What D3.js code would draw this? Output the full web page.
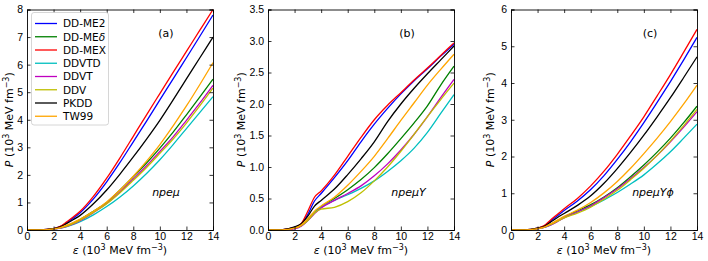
<!DOCTYPE html>
<html>
<head>
<meta charset="utf-8">
<script src="https://cdn.jsdelivr.net/npm/d3@7"></script>
<style>
  body { margin: 0; background: #fff; }
  svg { font-family: "DejaVu Sans", sans-serif; }
  .tick text { font-size: 10.5px; fill: #000; }
</style>
</head>
<body>
<svg id="chart" width="708" height="261"></svg>
<script>
// energy density grid (10^3 MeV fm^-3)
const eps = [0, 1, 2, 2.5, 3, 3.5, 4, 5, 6, 7, 8, 9, 10, 11, 12, 13, 14];

const models = ['DD-ME2', 'DD-MEδ', 'DD-MEX', 'DDVTD', 'DDVT', 'DDV', 'PKDD', 'TW99'];
const colors = ['#0000ff', '#008000', '#ff0000', '#00bfbf', '#bf00bf', '#bfbf00', '#000000', '#ffa500'];

// (a) npeμ
const pressA = {
  'DD-ME2': [0, 0.005, 0.05, 0.12, 0.27, 0.44, 0.63, 1.13, 1.75, 2.45, 3.2, 3.95, 4.72, 5.48, 6.25, 7.02, 7.8],
  'DD-MEδ': [0, 0.004, 0.04, 0.08, 0.15, 0.25, 0.38, 0.68, 1.0, 1.45, 1.93, 2.43, 2.97, 3.55, 4.18, 4.82, 5.47],
  'DD-MEX': [0, 0.005, 0.05, 0.13, 0.3, 0.48, 0.68, 1.22, 1.88, 2.62, 3.4, 4.18, 4.95, 5.72, 6.48, 7.24, 8.0],
  'DDVTD':  [0, 0.003, 0.035, 0.07, 0.12, 0.2, 0.3, 0.55, 0.85, 1.2, 1.6, 2.05, 2.55, 3.1, 3.68, 4.26, 4.84],
  'DDVT':   [0, 0.003, 0.035, 0.07, 0.13, 0.22, 0.34, 0.63, 0.96, 1.38, 1.85, 2.33, 2.85, 3.38, 3.98, 4.6, 5.25],
  'DDV':    [0, 0.004, 0.04, 0.08, 0.14, 0.24, 0.36, 0.64, 0.95, 1.35, 1.8, 2.27, 2.78, 3.3, 3.88, 4.5, 5.15],
  'PKDD':   [0, 0.005, 0.05, 0.11, 0.24, 0.38, 0.53, 0.95, 1.45, 2.03, 2.65, 3.3, 3.98, 4.72, 5.48, 6.24, 7.0],
  'TW99':   [0, 0.004, 0.04, 0.09, 0.18, 0.28, 0.4, 0.68, 1.02, 1.45, 1.95, 2.5, 3.1, 3.78, 4.5, 5.27, 6.07]
};

// (b) npeμY
const pressB = {
  'DD-ME2': [0, 0.003, 0.04, 0.09, 0.25, 0.46, 0.58, 0.83, 1.1, 1.4, 1.68, 1.93, 2.16, 2.37, 2.56, 2.76, 2.95],
  'DD-MEδ': [0, 0.002, 0.03, 0.07, 0.17, 0.28, 0.37, 0.5, 0.64, 0.8, 0.99, 1.21, 1.45, 1.7, 1.97, 2.3, 2.6],
  'DD-MEX': [0, 0.003, 0.04, 0.1, 0.3, 0.52, 0.62, 0.87, 1.17, 1.47, 1.75, 1.98, 2.18, 2.38, 2.57, 2.77, 2.97],
  'DDVTD':  [0, 0.002, 0.03, 0.07, 0.15, 0.27, 0.36, 0.47, 0.56, 0.66, 0.78, 0.93, 1.1, 1.3, 1.55, 1.85, 2.15],
  'DDVT':   [0, 0.002, 0.02, 0.06, 0.15, 0.26, 0.35, 0.47, 0.58, 0.7, 0.86, 1.05, 1.27, 1.52, 1.8, 2.1, 2.39],
  'DDV':    [0, 0.002, 0.03, 0.07, 0.15, 0.27, 0.33, 0.36, 0.45, 0.59, 0.78, 1.0, 1.25, 1.52, 1.8, 2.07, 2.33],
  'PKDD':   [0, 0.003, 0.05, 0.1, 0.22, 0.38, 0.47, 0.65, 0.88, 1.13, 1.4, 1.72, 2.0, 2.25, 2.48, 2.7, 2.92],
  'TW99':   [0, 0.002, 0.03, 0.08, 0.18, 0.3, 0.38, 0.52, 0.71, 0.93, 1.17, 1.45, 1.74, 2.02, 2.3, 2.55, 2.79]
};

// (c) npeμYϕ
const pressC = {
  'DD-ME2': [0, 0.004, 0.05, 0.11, 0.25, 0.39, 0.53, 0.79, 1.1, 1.48, 1.92, 2.4, 2.92, 3.47, 4.04, 4.63, 5.24],
  'DD-MEδ': [0, 0.003, 0.04, 0.08, 0.16, 0.26, 0.36, 0.52, 0.69, 0.9, 1.15, 1.45, 1.77, 2.12, 2.5, 2.92, 3.37],
  'DD-MEX': [0, 0.004, 0.05, 0.12, 0.28, 0.43, 0.58, 0.86, 1.2, 1.6, 2.06, 2.56, 3.08, 3.65, 4.23, 4.84, 5.46],
  'DDVTD':  [0, 0.002, 0.03, 0.07, 0.14, 0.24, 0.34, 0.49, 0.64, 0.82, 1.02, 1.25, 1.5, 1.8, 2.13, 2.5, 2.88],
  'DDVT':   [0, 0.002, 0.03, 0.07, 0.14, 0.23, 0.33, 0.49, 0.66, 0.88, 1.12, 1.4, 1.7, 2.03, 2.4, 2.8, 3.22],
  'DDV':    [0, 0.003, 0.04, 0.08, 0.15, 0.24, 0.33, 0.46, 0.62, 0.84, 1.08, 1.37, 1.68, 2.03, 2.42, 2.84, 3.28],
  'PKDD':   [0, 0.004, 0.05, 0.1, 0.22, 0.34, 0.45, 0.67, 0.93, 1.27, 1.67, 2.11, 2.58, 3.08, 3.6, 4.15, 4.71],
  'TW99':   [0, 0.003, 0.04, 0.08, 0.17, 0.27, 0.37, 0.54, 0.75, 1.01, 1.32, 1.68, 2.08, 2.5, 2.95, 3.43, 3.94]
};

const xTicks = [0, 2, 4, 6, 8, 10, 12, 14];

const panels = [
  { data: pressA, left: 27,  yMax: 8,   yTicks: d3.range(0, 9, 1),      fmt: d3.format('d'),   labelOff: 14, tag: '(a)', comp: 'npeμ',   legend: true },
  { data: pressB, left: 268, yMax: 3.5, yTicks: d3.range(0, 3.51, 0.5), fmt: d3.format('.1f'), labelOff: 23, tag: '(b)', comp: 'npeμY',  legend: false },
  { data: pressC, left: 511, yMax: 6,   yTicks: d3.range(0, 7, 1),      fmt: d3.format('d'),   labelOff: 17, tag: '(c)', comp: 'npeμYϕ', legend: false }
];

const plotW = 186, plotTop = 9.5, plotBottom = 230;
const svg = d3.select('#chart');

// text with superscripts: "(10^3 MeV fm^-3)"
function unitText(sel) {
  sel.append('tspan').text(' (10');
  sel.append('tspan').attr('dy', -4).attr('font-size', 8).text('3');
  sel.append('tspan').attr('dy', 4).text(' MeV fm');
  sel.append('tspan').attr('dy', -4).attr('font-size', 8).text('−3');
  sel.append('tspan').attr('dy', 4).text(')');
}

panels.forEach(p => {
  const x = d3.scaleLinear().domain([0, 14]).range([p.left, p.left + plotW]);
  const y = d3.scaleLinear().domain([0, p.yMax]).range([plotBottom, plotTop]);
  const g = svg.append('g');

  // curves
  const line = d3.line()
    .x((d, i) => x(eps[i]))
    .y(d => y(d))
    .curve(d3.curveMonotoneX);

  models.forEach((m, i) => {
    g.append('path')
      .datum(p.data[m])
      .attr('fill', 'none')
      .attr('stroke', colors[i])
      .attr('stroke-width', 1.3)
      .attr('d', line);
  });

  // axes, ticks inward on all sides
  g.append('g').attr('transform', `translate(0,${plotBottom})`)
    .call(d3.axisBottom(x).tickValues(xTicks).tickSize(-3.5).tickPadding(3).tickFormat(d3.format('d')));
  g.append('g').attr('transform', `translate(0,${plotTop})`)
    .call(d3.axisTop(x).tickValues(xTicks).tickSize(-3.5).tickFormat(''));
  g.append('g').attr('transform', `translate(${p.left},0)`)
    .call(d3.axisLeft(y).tickValues(p.yTicks).tickSize(-3.5).tickPadding(4).tickFormat(p.fmt));
  g.append('g').attr('transform', `translate(${p.left + plotW},0)`)
    .call(d3.axisRight(y).tickValues(p.yTicks).tickSize(-3.5).tickFormat(''));

  g.selectAll('.domain').attr('stroke', '#000').attr('stroke-width', 0.9);
  g.selectAll('.tick line').attr('stroke', '#000').attr('stroke-width', 0.8);

  // axis labels
  const xl = g.append('text')
    .attr('x', p.left + plotW / 2).attr('y', 254)
    .attr('text-anchor', 'middle').attr('font-size', 11);
  xl.append('tspan').attr('font-style', 'italic').text('ε');
  unitText(xl);

  const yl = g.append('text')
    .attr('transform', `translate(${p.left - p.labelOff},${(plotTop + plotBottom) / 2}) rotate(-90)`)
    .attr('text-anchor', 'middle').attr('font-size', 11);
  yl.append('tspan').attr('font-style', 'italic').text('P');
  unitText(yl);

  // panel tag and composition
  g.append('text')
    .attr('x', p.left + 139).attr('y', 37)
    .attr('text-anchor', 'middle').attr('font-size', 11)
    .text(p.tag);
  g.append('text')
    .attr('x', p.left + 139 + (p.comp.length - 4) * 1.5).attr('y', 196)
    .attr('text-anchor', 'middle').attr('font-size', 11).attr('font-style', 'italic')
    .text(p.comp);

  if (p.legend) {
    const lg = g.append('g');
    lg.append('rect')
      .attr('x', 31.5).attr('y', 12.5).attr('width', 77).attr('height', 112.5)
      .attr('rx', 2.5).attr('fill', '#fff').attr('fill-opacity', 0.8)
      .attr('stroke', '#cccccc').attr('stroke-width', 0.8);
    models.forEach((m, i) => {
      const ly = 23.5 + i * 13.25;
      lg.append('line')
        .attr('x1', 35).attr('x2', 57).attr('y1', ly).attr('y2', ly)
        .attr('stroke', colors[i]).attr('stroke-width', 1.3);
      const t = lg.append('text')
        .attr('x', 63).attr('y', ly + 3.8).attr('font-size', 10.5);
      if (m === 'DD-MEδ') {
        t.append('tspan').text('DD-ME');
        t.append('tspan').attr('font-style', 'italic').text('δ');
      } else {
        t.text(m);
      }
    });
  }
});
</script>
</body>
</html>
